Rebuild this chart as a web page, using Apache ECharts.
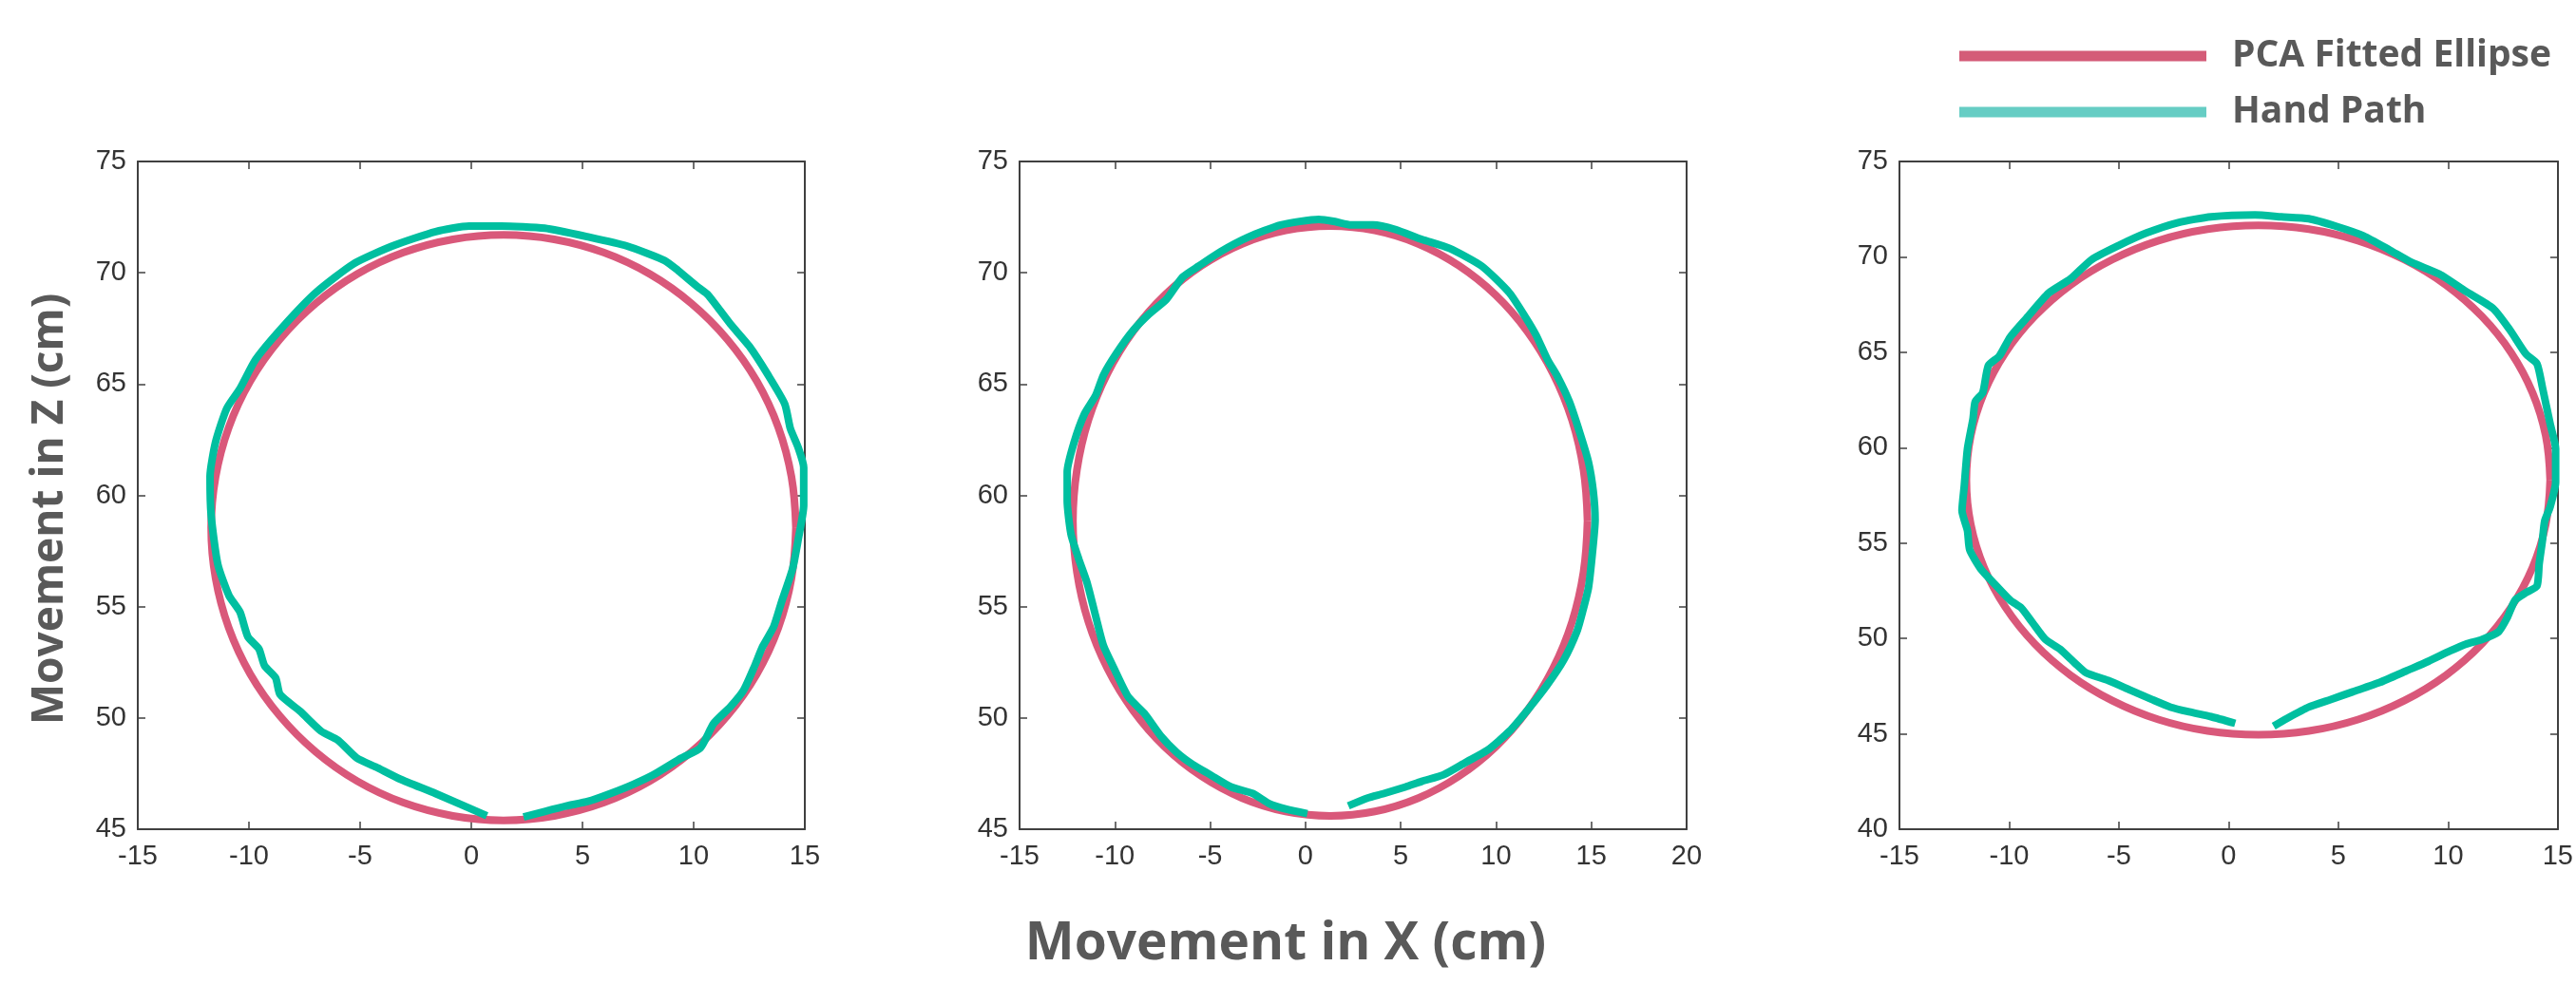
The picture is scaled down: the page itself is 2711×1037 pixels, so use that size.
<!DOCTYPE html>
<html>
<head>
<meta charset="utf-8">
<script src="https://cdn.jsdelivr.net/npm/echarts@6/dist/echarts.min.js"></script>
<style>
  html, body { margin: 0; padding: 0; background: #fff; }
  #main { width: 2711px; height: 1037px; }
</style>
</head>
<body>
<div id="main"></div>
<script>
// axis ranges [min, max, step] for each panel
const xRanges = [[-15, 15, 5], [-15, 20, 5], [-15, 15, 5]];
const zRanges = [[45, 75, 5], [45, 75, 5], [40, 75, 5]];

const seriesNames = ['PCA Fitted Ellipse', 'Hand Path'];

// PCA fitted ellipses, [x, z] in cm
const ellipse1 = [
  [14.6, 58.55], [14.4, 60.83], [13.81, 63.05], [12.84, 65.13], [11.52, 67.0], [9.9, 68.62],
  [8.03, 69.94], [5.95, 70.91], [3.73, 71.5], [1.45, 71.7], [-0.83, 71.5], [-3.05, 70.91],
  [-5.13, 69.94], [-7.0, 68.62], [-8.62, 67.0], [-9.94, 65.13], [-10.91, 63.05], [-11.5, 60.83],
  [-11.7, 58.55], [-11.5, 56.27], [-10.91, 54.05], [-9.94, 51.97], [-8.62, 50.1], [-7.0, 48.48],
  [-5.13, 47.16], [-3.05, 46.19], [-0.83, 45.6], [1.45, 45.4], [3.73, 45.6], [5.95, 46.19],
  [8.03, 47.16], [9.9, 48.48], [11.52, 50.1], [12.84, 51.97], [13.81, 54.05], [14.4, 56.27],
  [14.6, 58.55]
];
const ellipse2 = [
  [14.8, 58.85], [14.59, 61.15], [13.99, 63.38], [12.99, 65.48], [11.64, 67.37], [9.98, 69.0],
  [8.05, 70.32], [5.92, 71.3], [3.64, 71.9], [1.3, 72.1], [-1.04, 71.9], [-3.32, 71.3],
  [-5.45, 70.32], [-7.38, 69.0], [-9.04, 67.37], [-10.39, 65.48], [-11.39, 63.38], [-11.99, 61.15],
  [-12.2, 58.85], [-11.99, 56.55], [-11.39, 54.32], [-10.39, 52.22], [-9.04, 50.33], [-7.38, 48.7],
  [-5.45, 47.38], [-3.32, 46.4], [-1.04, 45.8], [1.3, 45.6], [3.64, 45.8], [5.92, 46.4],
  [8.05, 47.38], [9.98, 48.7], [11.64, 50.33], [12.99, 52.22], [13.99, 54.32], [14.59, 56.55],
  [14.8, 58.85]
];
const ellipse3 = [
  [14.65, 58.3], [14.45, 60.62], [13.85, 62.87], [12.87, 64.98], [11.54, 66.88], [9.9, 68.53],
  [8.0, 69.86], [5.9, 70.85], [3.66, 71.45], [1.35, 71.65], [-0.96, 71.45], [-3.2, 70.85],
  [-5.3, 69.86], [-7.2, 68.53], [-8.84, 66.88], [-10.17, 64.98], [-11.15, 62.87], [-11.75, 60.62],
  [-11.95, 58.3], [-11.75, 55.98], [-11.15, 53.73], [-10.17, 51.63], [-8.84, 49.72], [-7.2, 48.07],
  [-5.3, 46.74], [-3.2, 45.75], [-0.96, 45.15], [1.35, 44.95], [3.66, 45.15], [5.9, 45.75],
  [8.0, 46.74], [9.9, 48.07], [11.54, 49.72], [12.87, 51.63], [13.85, 53.73], [14.45, 55.98],
  [14.65, 58.3]
];

// recorded hand paths, [x, z] in cm
const hand1 = [
  [0.7, 45.6], [-1.6, 46.6], [-3.2, 47.25], [-4.3, 47.8], [-5.15, 48.2], [-6.0, 49.0], [-6.75, 49.4],
  [-7.7, 50.3], [-8.6, 51.05], [-8.8, 51.8], [-9.3, 52.35], [-9.55, 53.1], [-10.05, 53.65],
  [-10.4, 54.75], [-10.9, 55.5], [-11.4, 56.9], [-11.7, 59.1], [-11.75, 60.85], [-11.5, 62.4],
  [-11.0, 63.9], [-10.4, 64.8], [-9.7, 66.1], [-8.45, 67.6], [-7.0, 69.1], [-5.3, 70.4],
  [-3.55, 71.2], [-1.6, 71.85], [-0.1, 72.1], [1.35, 72.1], [3.3, 72.0], [5.3, 71.6], [7.0, 71.2],
  [8.7, 70.55], [9.3, 70.1], [10.2, 69.35], [10.65, 69.0], [11.65, 67.7], [12.5, 66.7],
  [13.35, 65.4], [14.1, 64.1], [14.35, 63.0], [14.7, 62.15], [14.95, 61.25], [14.95, 59.55],
  [14.7, 58.0], [14.45, 56.7], [13.95, 55.2], [13.6, 54.1], [13.1, 53.2], [12.75, 52.35],
  [12.25, 51.25], [11.65, 50.5], [10.9, 49.75], [10.3, 48.65], [9.45, 48.2], [8.2, 47.45],
  [7.25, 47.0], [6.25, 46.6], [5.25, 46.25], [4.3, 46.05], [3.3, 45.8], [2.35, 45.55]
];
const hand2 = [
  [0.1, 45.7], [-1.0, 45.9], [-1.9, 46.15], [-2.75, 46.6], [-3.9, 46.9], [-5.0, 47.45], [-5.9, 47.9],
  [-6.75, 48.45], [-7.6, 49.2], [-8.45, 50.2], [-9.3, 50.95], [-10.0, 52.15], [-10.6, 53.25],
  [-11.0, 54.55], [-11.45, 56.05], [-11.9, 57.15], [-12.3, 58.25], [-12.5, 59.75], [-12.5, 61.05],
  [-12.15, 62.35], [-11.6, 63.65], [-11.0, 64.5], [-10.6, 65.4], [-9.9, 66.4], [-9.05, 67.4],
  [-8.2, 68.15], [-7.3, 68.8], [-6.45, 69.8], [-5.6, 70.3], [-4.45, 70.95], [-3.0, 71.6],
  [-1.3, 72.15], [0.7, 72.4], [1.55, 72.3], [2.4, 72.15], [3.55, 72.15], [4.7, 71.95], [6.1, 71.5],
  [7.55, 71.1], [9.25, 70.3], [10.7, 69.1], [11.55, 68.0], [12.1, 67.2], [12.7, 66.1], [13.25, 65.3],
  [13.85, 64.2], [14.4, 62.8], [14.85, 61.5], [15.1, 60.2], [15.2, 58.9], [15.05, 57.35],
  [14.85, 55.85], [14.55, 54.8], [14.25, 53.9], [13.55, 52.6], [12.7, 51.5], [11.7, 50.4],
  [10.7, 49.4], [9.55, 48.55], [8.4, 48.0], [7.25, 47.45], [6.1, 47.15], [5.25, 46.9], [4.1, 46.6],
  [3.25, 46.4], [2.25, 46.05]
];
const hand3 = [
  [0.3, 45.55], [-0.8, 45.9], [-1.8, 46.15], [-2.65, 46.4], [-3.5, 46.8], [-4.5, 47.3], [-5.5, 47.8],
  [-6.5, 48.2], [-7.0, 48.7], [-7.7, 49.45], [-8.35, 49.95], [-8.95, 50.85], [-9.45, 51.6],
  [-9.95, 52.0], [-10.7, 52.9], [-11.3, 53.65], [-11.8, 54.65], [-11.9, 55.65], [-12.15, 56.7],
  [-12.05, 57.95], [-11.9, 59.95], [-11.65, 61.5], [-11.55, 62.4], [-11.2, 62.9], [-10.95, 64.3],
  [-10.45, 64.8], [-9.95, 65.8], [-9.2, 66.8], [-8.2, 68.1], [-7.2, 68.85], [-6.25, 69.85],
  [-5.0, 70.6], [-3.75, 71.25], [-2.3, 71.8], [-0.8, 72.1], [1.2, 72.2], [2.4, 72.1], [3.65, 72.0],
  [4.9, 71.6], [6.15, 71.1], [7.35, 70.35], [8.35, 69.7], [9.6, 69.1], [10.8, 68.2], [12.05, 67.3],
  [12.8, 66.2], [13.55, 64.9], [14.05, 64.4], [14.3, 63.15], [14.65, 61.25], [14.9, 59.95],
  [14.9, 58.2], [14.65, 56.9], [14.4, 56.15], [14.3, 55.15], [14.15, 53.9], [14.05, 52.75],
  [13.55, 52.4], [13.05, 52.0], [12.7, 51.1], [12.3, 50.35], [11.55, 49.95], [10.8, 49.7],
  [10.1, 49.35], [9.1, 48.8], [8.1, 48.3], [6.9, 47.7], [5.65, 47.2], [4.65, 46.8], [3.65, 46.4],
  [2.65, 45.8], [2.05, 45.4]
];

const ellipses = [ellipse1, ellipse2, ellipse3];
const hands = [hand1, hand2, hand3];

const pink = '#d9587a';
const teal = '#00bfa0';
const axisColor = '#404040';
const titleFont = '"Open Sans", sans-serif';

const chart = echarts.init(document.getElementById('main'));

const grids = [
  { left: 145, top: 170, width: 702, height: 703 },
  { left: 1073, top: 170, width: 702, height: 703 },
  { left: 1999, top: 170, width: 705, height: 703 }
];

const xAxes = [];
const yAxes = [];
grids.forEach((g, i) => {
  const common = {
    type: 'value',
    gridIndex: i,
    splitLine: { show: false },
    axisLine: { show: true, onZero: false, lineStyle: { color: axisColor, width: 2 } },
    axisTick: { show: true, inside: true, length: 8, lineStyle: { color: axisColor, width: 1.5 } }
  };
  const lbl = { color: '#333', fontFamily: '"Liberation Sans", Arial, sans-serif', fontSize: 29 };
  xAxes.push(Object.assign({}, common, {
    position: 'bottom', min: xRanges[i][0], max: xRanges[i][1], interval: xRanges[i][2],
    axisLabel: Object.assign({ margin: 14 }, lbl)
  }));
  xAxes.push(Object.assign({}, common, {
    position: 'top', min: xRanges[i][0], max: xRanges[i][1], interval: xRanges[i][2],
    axisLabel: { show: false }
  }));
  yAxes.push(Object.assign({}, common, {
    position: 'left', min: zRanges[i][0], max: zRanges[i][1], interval: zRanges[i][2],
    axisLabel: Object.assign({ margin: 12 }, lbl)
  }));
  yAxes.push(Object.assign({}, common, {
    position: 'right', min: zRanges[i][0], max: zRanges[i][1], interval: zRanges[i][2],
    axisLabel: { show: false }
  }));
});

const series = [];
ellipses.forEach((d, i) => {
  series.push({
    name: seriesNames[0], type: 'line', xAxisIndex: i * 2, yAxisIndex: i * 2,
    data: d, smooth: 0.4, showSymbol: false, symbol: 'none', clip: false,
    lineStyle: { color: pink, width: 8 }, itemStyle: { color: pink }, z: 2
  });
});
hands.forEach((d, i) => {
  series.push({
    name: seriesNames[1], type: 'line', xAxisIndex: i * 2, yAxisIndex: i * 2,
    data: d, smooth: 0.2, showSymbol: false, symbol: 'none', clip: false,
    lineStyle: { color: teal, width: 8, cap: 'butt', join: 'round' }, itemStyle: { color: teal }, z: 3
  });
});

const option = {
  backgroundColor: '#fff',
  animation: false,
  grid: grids,
  xAxis: xAxes,
  yAxis: yAxes,
  legend: {
    orient: 'vertical',
    left: 2057,
    top: 33,
    icon: 'rect',
    itemWidth: 260,
    itemHeight: 11,
    itemGap: 17,
    data: [
      { name: seriesNames[0], itemStyle: { color: '#d45c78' } },
      { name: seriesNames[1], itemStyle: { color: '#66cdc4' } }
    ],
    textStyle: {
      color: '#595959', fontFamily: titleFont, fontWeight: 'bold',
      fontSize: 39, lineHeight: 42, padding: [0, 0, 0, 22]
    }
  },
  graphic: [
    {
      type: 'text', x: 53, y: 536, rotation: Math.PI / 2,
      style: {
        text: 'Movement in Z (cm)', fill: '#595959', align: 'center', verticalAlign: 'middle',
        font: 'bold 46px ' + titleFont
      }
    },
    {
      type: 'text', x: 1353, y: 994,
      style: {
        text: 'Movement in X (cm)', fill: '#595959', align: 'center', verticalAlign: 'middle',
        font: 'bold 55px ' + titleFont
      }
    }
  ],
  series: series
};

chart.setOption(option);
</script>
</body>
</html>
